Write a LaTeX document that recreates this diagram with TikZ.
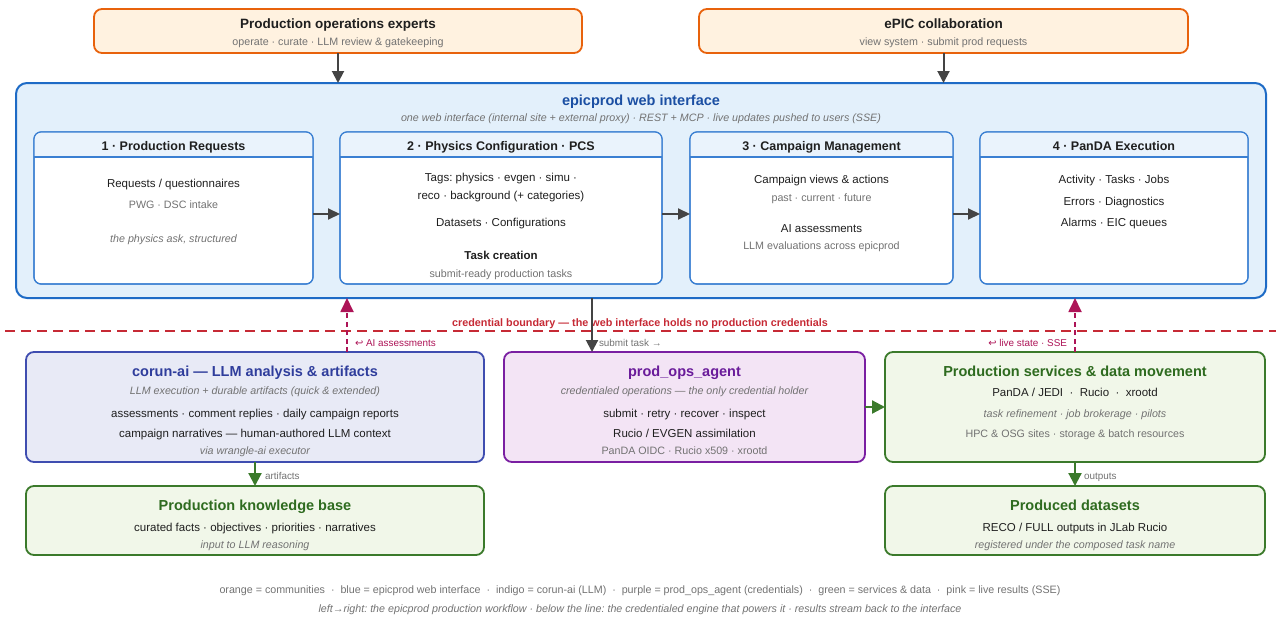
\documentclass[tikz,border=0pt]{standalone}
\usepackage{fontspec}
\setmainfont{Liberation Sans}
\newfontfamily\symfont{DejaVu Sans}
\usetikzlibrary{arrows.meta,calc}
\frenchspacing

\definecolor{ink}{HTML}{1F1F1F}
\definecolor{mute}{HTML}{727272}
\definecolor{orgline}{HTML}{E8620C}
\definecolor{orgfill}{HTML}{FFF2E0}
\definecolor{bluline}{HTML}{1E6BC6}
\definecolor{blufill}{HTML}{E3F0FB}
\definecolor{blutxt}{HTML}{1B4FA3}
\definecolor{hdrfill}{HTML}{EAF3FC}
\definecolor{pnlline}{HTML}{3A7FD2}
\definecolor{indline}{HTML}{3F4DB0}
\definecolor{indfill}{HTML}{E8EAF6}
\definecolor{indtxt}{HTML}{2F3D9C}
\definecolor{purline}{HTML}{7A1FA2}
\definecolor{purfill}{HTML}{F3E4F5}
\definecolor{purtxt}{HTML}{6A1B9A}
\definecolor{grnline}{HTML}{3B7A2B}
\definecolor{grnfill}{HTML}{F1F7E9}
\definecolor{grntxt}{HTML}{2E6B1F}
\definecolor{pinkc}{HTML}{AD1457}
\definecolor{redc}{HTML}{C62A35}
\definecolor{arrgray}{HTML}{444444}

\tikzset{
  box/.style={draw, rounded corners=8pt, line width=1.8pt, inner sep=0pt, outer sep=0pt},
  panel/.style={draw=pnlline, fill=white, rounded corners=7pt, line width=1.2pt, inner sep=0pt, outer sep=0pt},
  lbl/.style={inner sep=0pt, outer sep=0pt},
  toptitle/.style={lbl, font=\bfseries\fontsize{13.5}{16}\selectfont, text=ink, text height=14pt, text depth=3pt},
  bigtitle/.style={lbl, font=\bfseries\fontsize{14.5}{17}\selectfont, text height=14.5pt, text depth=3.5pt},
  hdrtitle/.style={lbl, font=\bfseries\fontsize{12.5}{15}\selectfont, text=ink, text height=13pt, text depth=3pt},
  body/.style={lbl, font=\fontsize{11.5}{14}\selectfont, text=ink, text height=10.5pt, text depth=2.5pt},
  bodybold/.style={body, font=\bfseries\fontsize{11.5}{14}\selectfont},
  note/.style={lbl, font=\fontsize{10.7}{13}\selectfont, text=mute, text height=10.8pt, text depth=2.3pt},
  inote/.style={note, font=\itshape\fontsize{10.7}{13}\selectfont},
  tag/.style={lbl, font=\fontsize{9.9}{12}\selectfont, text height=8.8pt, text depth=2pt},
  legend/.style={lbl, font=\fontsize{10.7}{13}\selectfont, text=mute, text height=10.3pt, text depth=2.3pt},
  grayarr/.style={draw=arrgray, line width=2pt, -{Triangle[length=12pt,width=12pt]}},
  grnarr/.style={draw=grnline, line width=2.2pt, -{Triangle[length=13pt,width=13pt]}},
  pinkarr/.style={draw=pinkc, line width=1.8pt, dash pattern=on 5pt off 3.5pt, -{Triangle[length=14pt,width=13pt]}},
}

\begin{document}
\begin{tikzpicture}[x=1pt,y=-1pt]
\useasboundingbox (0,0) rectangle (1276,618);

% communities
\node[box, draw=orgline, fill=orgfill, minimum width=488pt, minimum height=44pt] (ops) at (338,31) {};
\node[toptitle] (opsT) at (338,23.5) {Production operations experts};
\node[note] (opsS) at (338,41) {operate · curate · LLM review \& gatekeeping};

\node[box, draw=orgline, fill=orgfill, minimum width=489pt, minimum height=44pt] (epic) at (943.5,31) {};
\node[toptitle] (epicT) at (943.5,23.5) {ePIC collaboration};
\node[note] (epicS) at (943.5,41) {view system · submit prod requests};

% web interface
\node[box, draw=bluline, fill=blufill, rounded corners=11pt, line width=2pt, minimum width=1250pt, minimum height=215pt] (web) at (641,190.5) {};
\node[bigtitle, text=blutxt] (webT) at (641,100) {epicprod web interface};
\node[inote] (webS) at (641,117) {one web interface (internal site + external proxy) · REST + MCP · live updates pushed to users (SSE)};

% workflow panels
\node[panel, minimum width=279pt, minimum height=152pt] (p1) at (173.5,208) {};
\node[panel, minimum width=322pt, minimum height=152pt] (p2) at (501,208) {};
\node[panel, minimum width=263pt, minimum height=152pt] (p3) at (821.5,208) {};
\node[panel, minimum width=268pt, minimum height=152pt] (p4) at (1114,208) {};
\foreach \p in {p1,p2,p3,p4} {
  \begin{scope}
    \clip[rounded corners=7pt] (\p.north west) rectangle (\p.south east);
    \fill[hdrfill] (\p.north west) rectangle ($(\p.north east)+(0,25)$);
  \end{scope}
  \draw[pnlline, line width=1.2pt] ($(\p.north west)+(0,25)$) -- ($(\p.north east)+(0,25)$);
  \draw[pnlline, line width=1.2pt, rounded corners=7pt] (\p.north west) rectangle (\p.south east);
}
\node[hdrtitle] (p1T) at (173.5,145) {1 · Production Requests};
\node[hdrtitle] (p2T) at (501,145) {2 · Physics Configuration · PCS};
\node[hdrtitle] (p3T) at (821.5,145) {3 · Campaign Management};
\node[hdrtitle] (p4T) at (1114,145) {4 · PanDA Execution};

\node[body] (p1a) at (173.5,183) {Requests / questionnaires};
\node[note] (p1b) at (173.5,204) {PWG · DSC intake};
\node[inote] (p1c) at (173.5,238) {the physics ask, structured};

\node[body] (p2a) at (501,177) {Tags: physics · evgen · simu ·};
\node[body] (p2b) at (501,195) {reco · background (+ categories)};
\node[body] (p2c) at (501,222) {Datasets · Configurations};
\node[bodybold] (p2d) at (501,255) {Task creation};
\node[note] (p2e) at (501,273) {submit-ready production tasks};

\node[body] (p3a) at (821.5,179) {Campaign views \& actions};
\node[note] (p3b) at (821.5,197) {past · current · future};
\node[body] (p3c) at (821.5,228) {AI assessments};
\node[note] (p3d) at (821.5,245) {LLM evaluations across epicprod};

\node[body] (p4a) at (1114,179) {Activity · Tasks · Jobs};
\node[body] (p4b) at (1114,201) {Errors · Diagnostics};
\node[body] (p4c) at (1114,222) {Alarms · EIC queues};

\draw[grayarr, -{Triangle[length=12pt,width=11pt]}] ($(p1.east)+(0,6)$) -- ($(p2.west)+(0,6)$);
\draw[grayarr, -{Triangle[length=12pt,width=11pt]}] ($(p2.east)+(0,6)$) -- ($(p3.west)+(0,6)$);
\draw[grayarr, -{Triangle[length=12pt,width=11pt]}] ($(p3.east)+(0,6)$) -- ($(p4.west)+(0,6)$);

\draw[grayarr] (ops.south) -- (ops.south |- web.north);
\draw[grayarr] (epic.south) -- (epic.south |- web.north);

% credential boundary
\coordinate (bndL) at (5,331);
\coordinate (bndR) at (1276,331);
\draw[redc, line width=2pt, dash pattern=on 10pt off 6pt] (bndL) -- (bndR);
\node[lbl, font=\bfseries\fontsize{10.8}{13}\selectfont, text=redc, text height=10pt, text depth=2.5pt] (bndT) at (640,322.5) {credential boundary — the web interface holds no production credentials};

% engine below the line
\node[box, draw=indline, fill=indfill, minimum width=458pt, minimum height=110pt] (corun) at (255,407) {};
\node[bigtitle, text=indtxt] (corunT) at (255,371) {corun-ai — LLM analysis \& artifacts};
\node[inote] (corunS) at (255,390) {LLM execution + durable artifacts (quick \& extended)};
\node[body] (corunA) at (255,413) {assessments · comment replies · daily campaign reports};
\node[body] (corunB) at (255,433) {campaign narratives — human-authored LLM context};
\node[inote] (corunC) at (255,450) {via wrangle-ai executor};

\node[box, draw=grnline, fill=grnfill, minimum width=458pt, minimum height=69pt] (kb) at (255,520.5) {};
\node[bigtitle, text=grntxt] (kbT) at (255,505) {Production knowledge base};
\node[body] (kbA) at (255,527) {curated facts · objectives · priorities · narratives};
\node[inote] (kbB) at (255,544) {input to LLM reasoning};

\node[box, draw=purline, fill=purfill, minimum width=361pt, minimum height=110pt] (agent) at (684.5,407) {};
\node[bigtitle, text=purtxt] (agentT) at (684.5,371) {prod\_ops\_agent};
\node[inote] (agentS) at (684.5,390) {credentialed operations — the only credential holder};
\node[body] (agentA) at (684.5,413) {submit · retry · recover · inspect};
\node[body] (agentB) at (684.5,433) {Rucio / EVGEN assimilation};
\node[note] (agentC) at (684.5,450) {PanDA OIDC · Rucio x509 · xrootd};

\node[box, draw=grnline, fill=grnfill, minimum width=380pt, minimum height=110pt] (svc) at (1075,407) {};
\node[bigtitle, text=grntxt] (svcT) at (1075,371) {Production services \& data movement};
\node[body] (svcA) at (1075,392) {PanDA / JEDI\ \ ·\ \ Rucio\ \ ·\ \ xrootd};
\node[inote] (svcB) at (1075,413) {task refinement · job brokerage · pilots};
\node[note] (svcC) at (1075,433) {HPC \& OSG sites · storage \& batch resources};

\node[box, draw=grnline, fill=grnfill, minimum width=380pt, minimum height=69pt] (ds) at (1075,520.5) {};
\node[bigtitle, text=grntxt] (dsT) at (1075,505) {Produced datasets};
\node[body] (dsA) at (1075,527) {RECO / FULL outputs in JLab Rucio};
\node[inote] (dsB) at (1075,544) {registered under the composed task name};

% connectors across the boundary
\coordinate (aiFoot) at ($(corun.north west)+(321,0)$);
\draw[pinkarr] (aiFoot) -- (aiFoot |- web.south);
\node[tag, text=pinkc, anchor=west] (aiL) at (355,343) {{\symfont ↩} AI assessments};

\coordinate (subFoot) at ($(agent.north west)+(88,0)$);
\draw[grayarr] (subFoot |- web.south) -- (subFoot);
\node[tag, text=mute, anchor=west] (subL) at (599,343) {submit task →};

\draw[pinkarr] (svc.north) -- (svc.north |- web.south);
\node[tag, text=pinkc, anchor=east] (liveL) at (1067,343) {{\symfont ↩} live state · SSE};

\draw[grnarr] (agent.east) -- (svc.west);
\draw[grnarr] (corun.south) -- (kb.north);
\node[tag, text=mute, anchor=west] (artL) at (265,476) {artifacts};
\draw[grnarr] (svc.south) -- (ds.north);
\node[tag, text=mute, anchor=west] (outL) at (1084,476) {outputs};

% legend
\node[legend] (leg1) at (640,589) {orange = communities\ \ ·\ \ blue = epicprod web interface\ \ ·\ \ indigo = corun-ai (LLM)\ \ ·\ \ purple = prod\_ops\_agent (credentials)\ \ ·\ \ green = services \& data\ \ ·\ \ pink = live results (SSE)};
\node[legend, font=\itshape\fontsize{10.7}{13}\selectfont] (leg2) at (640,608) {left→right: the epicprod production workflow · below the line: the credentialed engine that powers it · results stream back to the interface};
\end{tikzpicture}
\end{document}
